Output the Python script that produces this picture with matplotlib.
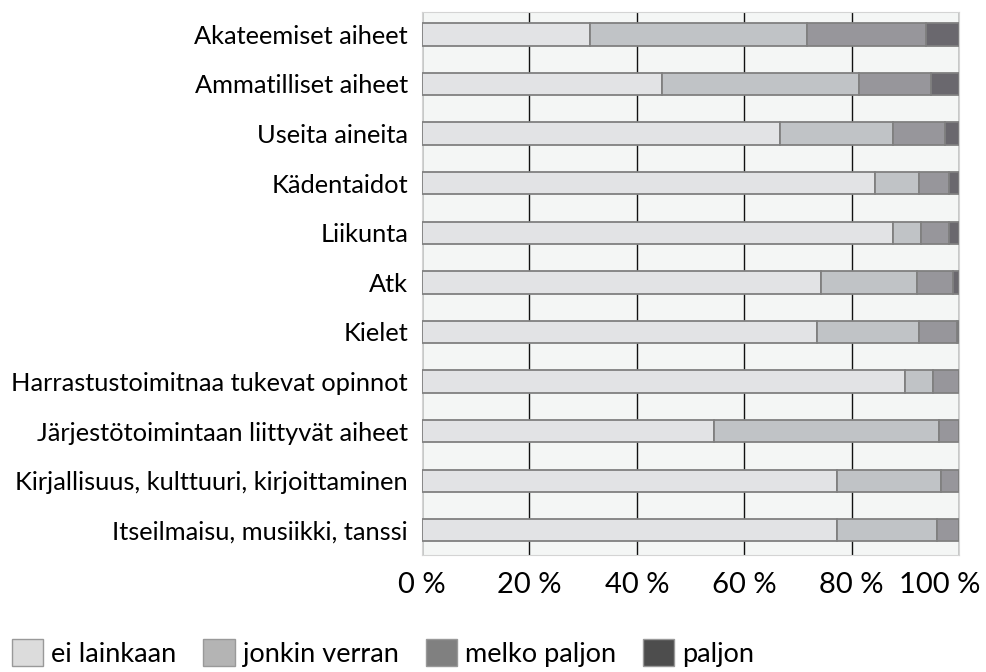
import matplotlib.pyplot as plt
import matplotlib.transforms as mtransforms
from matplotlib.patches import Patch
import numpy as np

plt.rcParams['font.family'] = ['Lato', 'DejaVu Sans']

categories = [
    "Akateemiset aiheet",
    "Ammatilliset aiheet",
    "Useita aineita",
    "Kädentaidot",
    "Liikunta",
    "Atk",
    "Kielet",
    "Harrastustoimitnaa tukevat opinnot",
    "Järjestötoimintaan liittyvät aiheet",
    "Kirjallisuus, kulttuuri, kirjoittaminen",
    "Itseilmaisu, musiikki, tanssi",
]
ei_lainkaan = [31.2, 44.7, 66.6, 84.4, 87.8, 74.4, 73.6, 90.0, 54.3, 77.3, 77.3]
jonkin_verran = [40.6, 36.7, 21.1, 8.2, 5.2, 17.8, 19.0, 5.1, 42.0, 19.4, 18.6]
melko_paljon = [22.0, 13.4, 9.8, 5.5, 5.1, 6.7, 7.1, 4.9, 3.7, 3.3, 4.1]
paljon = [6.2, 5.2, 2.5, 1.9, 1.9, 1.1, 0.3, 0.0, 0.0, 0.0, 0.0]

series = [ei_lainkaan, jonkin_verran, melko_paljon, paljon]
labels = ["ei lainkaan", "jonkin verran", "melko paljon", "paljon"]
bar_colors = ["#e2e3e5", "#c0c3c6", "#97969b", "#6a686e"]
legend_colors = ["#dcdcdc", "#b4b4b4", "#808080", "#4d4d4d"]
xticks = [0, 20, 40, 60, 80, 100]

fig = plt.figure(figsize=(9.86, 6.72), dpi=100)
ax = fig.add_axes([0.428, 0.174, 0.5445, 0.808])
ax.set_facecolor("#f4f6f5")

y = np.arange(len(categories))
left = np.zeros(len(categories))
for vals, col in zip(series, bar_colors):
    ax.barh(y, vals, left=left, height=0.45, color=col,
            edgecolor="#808080", linewidth=1.3, zorder=3)
    left += np.array(vals)

ax.set_xlim(0, 100)
ax.set_ylim(10.5, -0.45)
ax.set_xticks(xticks)
ax.set_xticklabels([f"{t} %" for t in xticks], fontsize=21)
ax.set_yticks(y)
ax.set_yticklabels(categories, fontsize=18.3)
ax.tick_params(axis="y", length=0, pad=10)
ax.tick_params(axis="x", length=0, pad=12)
ax.xaxis.grid(True, color="#111111", linewidth=1.0, zorder=1)
ax.set_axisbelow(True)
for s in ax.spines.values():
    s.set_color("#d4d4d4")

# keep the last tick label inside the figure
last = ax.get_xticklabels()[-1]
last.set_horizontalalignment("right")
last.set_transform(last.get_transform() + mtransforms.ScaledTranslation(21 / 100, 0, fig.dpi_scale_trans))

handles = [Patch(facecolor=c, edgecolor="#999999", linewidth=1.0) for c in legend_colors]
fig.legend(handles, labels, loc="lower left", bbox_to_anchor=(0.012, 0.008),
           ncol=4, frameon=False, fontsize=19.5, handlelength=1.15, handleheight=1.2,
           handletextpad=0.3, columnspacing=1.0, borderpad=0, borderaxespad=0)

fig.savefig("out.png", dpi=100)
